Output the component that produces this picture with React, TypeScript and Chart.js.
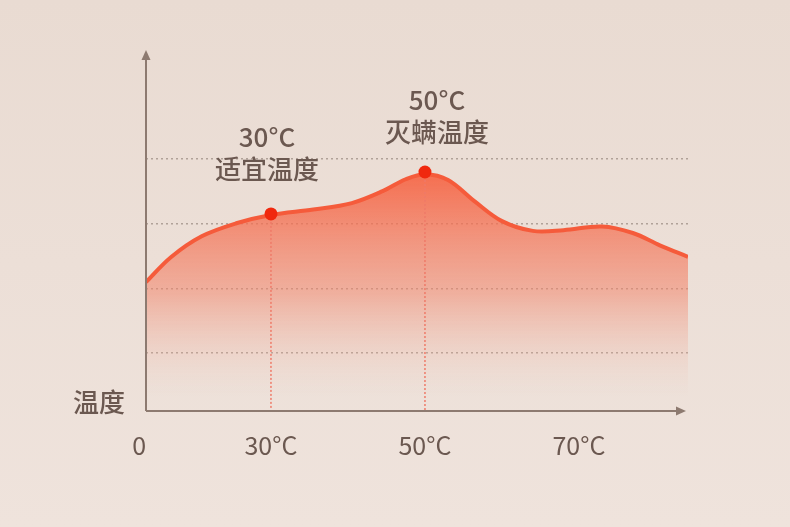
import React, { useEffect, useRef } from "react";
import { Chart, registerables } from "chart.js";

Chart.register(...registerables);

// Curve: x in °C-like units, y in relative level units
const curveX = [13.77, 17.0, 21.0, 25.5, 30.0, 35.5, 40.5, 44.5, 47.5, 50.0, 53.0, 56.5, 60.0, 64.0, 68.0, 73.0, 77.0, 80.5, 84.16];
const curveY = [35.7, 42.6, 48.4, 52.0, 54.3, 55.8, 57.6, 60.9, 64.2, 65.6, 64.0, 58.0, 52.6, 49.9, 50.1, 51.1, 49.3, 45.9, 42.7];

const markerX = [30, 50];
const markerY = [54.6, 66.2];
const markerTemp = ["30°C", "50°C"];
const markerText = ["适宜温度", "灭螨温度"];

const xTickValues = [12.9, 30, 50, 70];
const xTickLabels = ["0", "30°C", "50°C", "70°C"];
const yGridValues = [16, 34, 52, 70];
const yAxisTitle = "温度";

const FONT = '"Noto Sans CJK SC", "Noto Sans", sans-serif';
const TEXT = "#6b5850";
const AXIS = "#8d7a70";

export default function App() {
  const ref = useRef<HTMLCanvasElement | null>(null);

  useEffect(() => {
    const canvas = ref.current;
    if (!canvas) return;

    const overlay = {
      id: "overlay",
      afterDatasetsDraw(chart: any) {
        const { ctx, chartArea } = chart;
        const xs = chart.scales.x;
        const ys = chart.scales.y;
        ctx.save();
        // axes
        ctx.strokeStyle = AXIS;
        ctx.fillStyle = AXIS;
        ctx.lineWidth = 2;
        const ox = chartArea.left;
        const oy = chartArea.bottom;
        ctx.beginPath();
        ctx.moveTo(ox, oy);
        ctx.lineTo(ox, chartArea.top + 6);
        ctx.moveTo(ox, oy);
        ctx.lineTo(chartArea.right - 6, oy);
        ctx.stroke();
        ctx.beginPath();
        ctx.moveTo(ox, chartArea.top);
        ctx.lineTo(ox - 4.5, chartArea.top + 10);
        ctx.lineTo(ox + 4.5, chartArea.top + 10);
        ctx.closePath();
        ctx.fill();
        const ax = chartArea.right - 2;
        ctx.beginPath();
        ctx.moveTo(ax, oy);
        ctx.lineTo(ax - 10, oy - 4.5);
        ctx.lineTo(ax - 10, oy + 4.5);
        ctx.closePath();
        ctx.fill();
        // annotations
        ctx.fillStyle = TEXT;
        ctx.textAlign = "center";
        ctx.textBaseline = "middle";
        ctx.font = `500 26px ${FONT}`;
        const dx = [-4, 12];
        const dyTemp = [-77, -72];
        const dyText = [-45, -40];
        markerX.forEach((mx, i) => {
          const px = xs.getPixelForValue(mx) + dx[i];
          const py = ys.getPixelForValue(markerY[i]);
          ctx.fillText(markerTemp[i], px, py + dyTemp[i]);
          ctx.fillText(markerText[i], px, py + dyText[i]);
        });
        ctx.fillText(yAxisTitle, ox - 47, oy - 9);
        ctx.restore();
      },
    };

    const guides = {
      id: "guides",
      afterDatasetDraw(chart: any, args: any) {
        if (args.index !== 1) return;
        const { ctx, chartArea } = chart;
        const xs = chart.scales.x;
        const ys = chart.scales.y;
        ctx.save();
        ctx.strokeStyle = "#ef7a68";
        ctx.lineWidth = 1.5;
        ctx.setLineDash([2, 2]);
        markerX.forEach((mx, i) => {
          const px = xs.getPixelForValue(mx);
          ctx.beginPath();
          ctx.moveTo(px, ys.getPixelForValue(markerY[i]));
          ctx.lineTo(px, chartArea.bottom);
          ctx.stroke();
        });
        ctx.restore();
      },
    };

    const chart = new Chart(canvas, {
      type: "line",
      data: {
        datasets: [
          {
            data: markerX.map((x, i) => ({ x, y: markerY[i] })),
            showLine: false,
            pointRadius: 6.5,
            pointHoverRadius: 6.5,
            pointBackgroundColor: "#f0280e",
            pointBorderColor: "#f0280e",
            pointBorderWidth: 0,
            order: 0,
          } as any,
          {
            data: curveX.map((x, i) => ({ x, y: curveY[i] })),
            borderColor: "#f55b3b",
            borderWidth: 4,
            pointRadius: 0,
            tension: 0.35,
            fill: "start",
            order: 1,
            backgroundColor: (c: any) => {
              const area = c.chart.chartArea;
              if (!area) return "rgba(244,100,70,0.5)";
              const g = c.chart.ctx.createLinearGradient(0, 170, 0, area.bottom - 15);
              g.addColorStop(0, "rgba(246,95,62,0.9)");
              g.addColorStop(0.55, "rgba(242,132,106,0.52)");
              g.addColorStop(1, "rgba(240,200,185,0)");
              return g;
            },
          } as any,
        ],
      },
      options: {
        animation: false,
        responsive: false,
        events: [],
        layout: { padding: { left: 146, right: 102, top: 50, bottom: 0 } },
        plugins: { legend: { display: false }, tooltip: { enabled: false } },
        scales: {
          x: {
            type: "linear",
            min: 13.77,
            max: 84.16,
            grid: { display: false, drawTicks: false },
            border: { display: false },
            afterFit: (s: any) => {
              s.height = 116;
            },
            afterBuildTicks: (s: any) => {
              s.ticks = xTickValues.map((v) => ({ value: v }));
            },
            ticks: {
              autoSkip: false,
              maxRotation: 0,
              padding: 19,
              color: TEXT,
              font: { size: 25, family: FONT },
              callback: (_v: any, i: number) => xTickLabels[i],
            },
          },
          y: {
            type: "linear",
            min: 0,
            max: 100,
            afterFit: (s: any) => {
              s.width = 0;
            },
            afterBuildTicks: (s: any) => {
              s.ticks = yGridValues.map((v) => ({ value: v }));
            },
            ticks: { display: false },
            grid: { color: "#b0a198", lineWidth: 1.5, drawTicks: false },
            border: { display: false, dash: [2, 3] },
          },
        },
      },
      plugins: [guides, overlay],
    } as any);

    return () => chart.destroy();
  }, []);

  return (
    <div
      style={{
        position: "absolute",
        left: 0,
        top: 0,
        width: 790,
        height: 527,
        background: "linear-gradient(180deg, #e9dbd2 0%, #efe3dc 100%)",
      }}
    >
      <canvas ref={ref} width={790} height={527} style={{ display: "block" }} />
    </div>
  );
}
